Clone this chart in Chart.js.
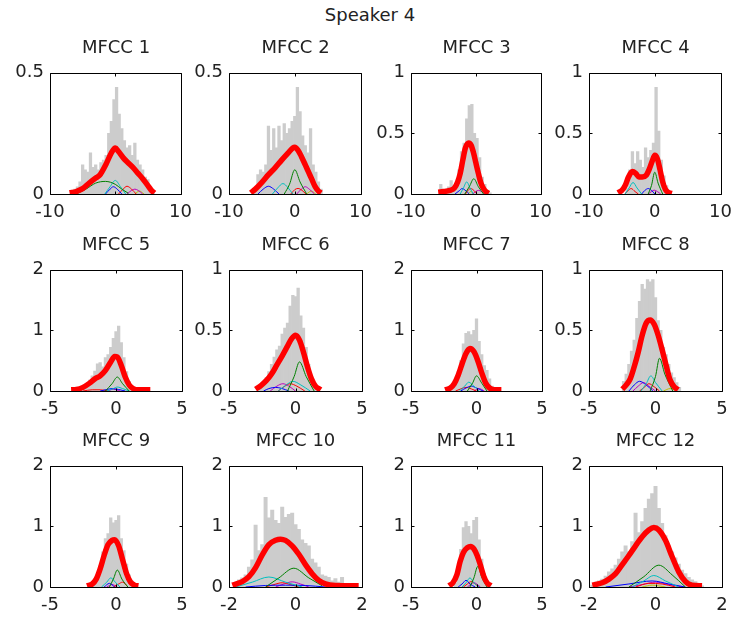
<!DOCTYPE html>
<html lang="en">
<head>
<meta charset="UTF-8">
<title>Speaker 4</title>
<script src="https://cdn.jsdelivr.net/npm/chart.js"></script>
<style>
  body { margin: 0; background: #fff; font-family: 'DejaVu Sans', sans-serif; }
  #page { position: relative; width: 732px; height: 621px; overflow: hidden; }
  .ttl { position: absolute; width: 160px; font-size: 18px; line-height: 20px; color: #222; text-align: center; white-space: nowrap; }
  canvas { position: absolute; }
</style>
</head>
<body>
<div id="page"></div>
<script>
// ---- data ----
const figTitle = 'Speaker 4';
const titles = ['MFCC 1','MFCC 2','MFCC 3','MFCC 4','MFCC 5','MFCC 6','MFCC 7','MFCC 8','MFCC 9','MFCC 10','MFCC 11','MFCC 12'];
const xMax  = [10, 10, 10, 10, 5, 5, 5, 5, 5, 2, 5, 2];
const yMax  = [0.5, 0.5, 1, 1, 2, 1, 2, 1, 2, 2, 2, 2];
const yStep = [0.5, 0.5, 0.5, 0.5, 1, 0.5, 1, 0.5, 1, 1, 1, 1];
// component colours: green, cyan, blue, red, magenta, yellow
const partColors = ['#008000', '#00bfbf', '#0000ff', '#ff0000', '#bf00bf', '#bfbf00'];

// histograms [bin centre, density]
const hist1 = [[-6.2,0.02],[-5.8,0.03],[-5.4,0.05],[-5.0,0.12],[-4.6,0.10],[-4.2,0.09],[-3.8,0.17],[-3.4,0.11],[-3.0,0.12],[-2.6,0.10],[-2.2,0.13],[-1.8,0.14],[-1.4,0.16],[-1.0,0.25],[-0.6,0.30],[-0.2,0.39],[0.2,0.44],[0.6,0.33],[1.0,0.27],[1.4,0.22],[1.8,0.19],[2.2,0.20],[2.6,0.16],[3.0,0.21],[3.4,0.14],[3.8,0.12],[4.2,0.10],[4.6,0.07],[5.0,0.06],[5.4,0.03],[5.8,0.01]];
const hist2 = [[-6.0,0.02],[-5.6,0.08],[-5.2,0.10],[-4.8,0.09],[-4.4,0.12],[-4.0,0.28],[-3.6,0.18],[-3.2,0.27],[-2.8,0.19],[-2.4,0.28],[-2.0,0.22],[-1.6,0.29],[-1.2,0.25],[-0.8,0.27],[-0.4,0.30],[0.0,0.32],[0.4,0.44],[0.8,0.34],[1.2,0.24],[1.6,0.20],[2.0,0.17],[2.4,0.27],[2.8,0.12],[3.2,0.09],[3.6,0.05],[4.0,0.02]];
const hist3 = [[-5.4,0.08],[-5.0,0.02],[-4.6,0.04],[-4.2,0.06],[-3.8,0.11],[-3.4,0.05],[-3.0,0.08],[-2.6,0.20],[-2.2,0.35],[-1.8,0.42],[-1.4,0.62],[-1.0,0.73],[-0.6,0.74],[-0.2,0.50],[0.2,0.46],[0.6,0.30],[1.0,0.14],[1.4,0.08],[1.8,0.03],[2.2,0.01]];
const hist4 = [[-4.2,0.05],[-3.8,0.20],[-3.4,0.35],[-3.0,0.25],[-2.6,0.35],[-2.2,0.28],[-1.8,0.22],[-1.4,0.38],[-1.0,0.30],[-0.6,0.36],[-0.2,0.42],[0.2,0.88],[0.6,0.52],[1.0,0.28],[1.4,0.15],[1.8,0.07],[2.2,0.02]];
const hist5 = [[-2.6,0.04],[-2.4,0.08],[-2.2,0.12],[-2.0,0.18],[-1.8,0.25],[-1.6,0.33],[-1.4,0.45],[-1.2,0.47],[-1.0,0.40],[-0.8,0.55],[-0.6,0.60],[-0.4,0.72],[-0.2,0.87],[0.0,0.98],[0.2,1.07],[0.4,0.80],[0.6,0.55],[0.8,0.32],[1.0,0.16],[1.2,0.07],[1.4,0.03]];
const hist6 = [[-2.8,0.03],[-2.6,0.05],[-2.4,0.07],[-2.2,0.11],[-2.0,0.16],[-1.8,0.22],[-1.6,0.28],[-1.4,0.34],[-1.2,0.37],[-1.0,0.47],[-0.8,0.52],[-0.6,0.56],[-0.4,0.70],[-0.2,0.79],[0.0,0.78],[0.2,0.85],[0.4,0.62],[0.6,0.52],[0.8,0.36],[1.0,0.22],[1.2,0.12],[1.4,0.06],[1.6,0.03]];
const hist7 = [[-1.8,0.10],[-1.6,0.18],[-1.4,0.32],[-1.2,0.50],[-1.0,0.78],[-0.8,0.95],[-0.6,0.98],[-0.4,0.93],[-0.2,1.00],[0.0,1.19],[0.2,0.82],[0.4,0.60],[0.6,0.42],[0.8,0.34],[1.0,0.20],[1.2,0.08],[1.4,0.03]];
const hist8 = [[-2.4,0.08],[-2.2,0.14],[-2.0,0.22],[-1.8,0.33],[-1.6,0.42],[-1.4,0.60],[-1.2,0.74],[-1.0,0.88],[-0.8,0.84],[-0.6,0.92],[-0.4,0.90],[-0.2,0.92],[0.0,0.77],[0.2,0.58],[0.4,0.50],[0.6,0.36],[0.8,0.30],[1.0,0.22],[1.2,0.15],[1.4,0.11],[1.6,0.07],[1.8,0.03]];
const hist9 = [[-1.6,0.10],[-1.4,0.20],[-1.2,0.35],[-1.0,0.58],[-0.8,0.80],[-0.6,0.88],[-0.4,1.14],[-0.2,1.06],[0.0,1.10],[0.2,1.18],[0.4,0.80],[0.6,0.60],[0.8,0.38],[1.0,0.20],[1.2,0.10],[1.4,0.04]];
const hist10 = [[-1.8,0.06],[-1.7,0.12],[-1.6,0.15],[-1.5,0.20],[-1.4,0.33],[-1.3,0.45],[-1.2,1.02],[-1.1,0.60],[-1.0,0.70],[-0.9,1.48],[-0.8,1.14],[-0.7,1.27],[-0.6,1.10],[-0.5,1.05],[-0.4,1.32],[-0.3,1.15],[-0.2,1.20],[-0.1,1.22],[0.0,1.03],[0.1,0.95],[0.2,0.78],[0.3,0.72],[0.4,0.68],[0.5,0.46],[0.6,0.40],[0.7,0.33],[0.8,0.20],[0.9,0.18],[1.0,0.16],[1.1,0.10],[1.2,0.14],[1.3,0.08],[1.4,0.16],[1.5,0.06],[1.6,0.05],[1.7,0.03]];
const hist11 = [[-1.6,0.06],[-1.4,0.25],[-1.2,0.62],[-1.0,0.98],[-0.8,1.08],[-0.6,1.00],[-0.4,0.88],[-0.2,1.10],[0.0,1.15],[0.2,0.78],[0.4,0.46],[0.6,0.22],[0.8,0.10],[1.0,0.03]];
const hist12 = [[-1.9,0.03],[-1.8,0.08],[-1.7,0.10],[-1.6,0.13],[-1.5,0.18],[-1.4,0.25],[-1.3,0.30],[-1.2,0.36],[-1.1,0.46],[-1.0,0.58],[-0.9,0.68],[-0.8,0.58],[-0.7,0.75],[-0.6,1.22],[-0.5,0.90],[-0.4,1.08],[-0.3,1.30],[-0.2,1.45],[-0.1,1.54],[0.0,1.66],[0.1,1.30],[0.2,1.05],[0.3,0.85],[0.4,0.68],[0.5,0.58],[0.6,0.48],[0.7,0.38],[0.8,0.28],[0.9,0.22],[1.0,0.16],[1.1,0.12],[1.2,0.09],[1.3,0.05],[1.4,0.02]];

// mixture fit (thick red)
const fit1 = [[-7,0.005],[-6,0.01],[-5,0.022],[-4,0.045],[-3,0.066],[-2.4,0.077],[-1.4,0.124],[-0.6,0.17],[0,0.19],[0.5,0.175],[1.2,0.15],[2,0.128],[2.7,0.11],[3.5,0.085],[4.2,0.063],[5,0.035],[5.5,0.016],[6,0.004]];
const fit2 = [[-6.7,0.005],[-6,0.02],[-5,0.048],[-4,0.08],[-3,0.108],[-2,0.14],[-1,0.17],[-0.3,0.19],[0,0.193],[0.5,0.18],[1,0.155],[1.6,0.12],[2.1,0.09],[2.6,0.06],[3.1,0.03],[3.6,0.012],[4,0.004]];
const fit3 = [[-5.8,0.015],[-5,0.02],[-4,0.03],[-3.3,0.05],[-2.8,0.1],[-2.4,0.17],[-2,0.28],[-1.6,0.38],[-1.1,0.42],[-0.7,0.4],[-0.3,0.33],[0,0.26],[0.4,0.17],[0.8,0.09],[1.2,0.045],[1.6,0.018],[2,0.005]];
const fit4 = [[-5.6,0.01],[-5,0.03],[-4.5,0.07],[-4,0.14],[-3.4,0.185],[-2.9,0.17],[-2.4,0.14],[-1.9,0.14],[-1.3,0.155],[-0.8,0.21],[-0.4,0.27],[0,0.32],[0.4,0.29],[0.8,0.2],[1.2,0.1],[1.6,0.04],[2,0.015],[2.6,0.005]];
const fit5 = [[-3.4,0.02],[-3,0.025],[-2.5,0.06],[-2,0.13],[-1.6,0.2],[-1.2,0.25],[-0.8,0.34],[-0.4,0.48],[-0.1,0.57],[0.1,0.56],[0.4,0.42],[0.7,0.23],[1,0.1],[1.3,0.04],[1.7,0.02],[2.6,0.02]];
const fit6 = [[-3,0.015],[-2.6,0.045],[-2.2,0.085],[-1.8,0.14],[-1.4,0.215],[-1,0.29],[-0.6,0.37],[-0.3,0.43],[0,0.46],[0.3,0.42],[0.6,0.32],[0.9,0.2],[1.2,0.1],[1.5,0.04],[1.9,0.01]];
const fit7 = [[-2.4,0.02],[-2,0.05],[-1.7,0.12],[-1.4,0.26],[-1.1,0.45],[-0.8,0.62],[-0.5,0.7],[-0.2,0.65],[0.1,0.5],[0.4,0.3],[0.7,0.13],[1,0.05],[1.4,0.02],[1.9,0.02]];
const fit8 = [[-2.5,0.015],[-2.2,0.05],[-1.9,0.1],[-1.6,0.2],[-1.3,0.32],[-1,0.46],[-0.7,0.56],[-0.4,0.585],[-0.1,0.55],[0.2,0.46],[0.5,0.34],[0.8,0.21],[1.1,0.09],[1.4,0.035],[1.7,0.01]];
const fit9 = [[-2.2,0.02],[-1.8,0.05],[-1.5,0.13],[-1.2,0.3],[-0.9,0.52],[-0.6,0.7],[-0.3,0.77],[-0.1,0.78],[0.2,0.68],[0.5,0.45],[0.8,0.22],[1.1,0.08],[1.4,0.03],[1.7,0.02]];
const fit10 = [[-1.9,0.03],[-1.6,0.09],[-1.4,0.17],[-1.2,0.32],[-1,0.53],[-0.8,0.7],[-0.6,0.77],[-0.45,0.79],[-0.3,0.77],[-0.1,0.68],[0.1,0.54],[0.3,0.37],[0.5,0.22],[0.7,0.11],[0.9,0.05],[1.2,0.025],[1.9,0.02]];
const fit11 = [[-2.1,0.02],[-1.8,0.07],[-1.5,0.2],[-1.25,0.42],[-1,0.57],[-0.7,0.65],[-0.45,0.67],[-0.2,0.63],[0.05,0.52],[0.3,0.36],[0.55,0.18],[0.8,0.07],[1.1,0.02]];
const fit12 = [[-1.9,0.03],[-1.6,0.07],[-1.4,0.13],[-1.2,0.22],[-1,0.37],[-0.8,0.52],[-0.6,0.68],[-0.4,0.83],[-0.2,0.94],[-0.05,0.98],[0.1,0.94],[0.3,0.77],[0.5,0.5],[0.7,0.25],[0.9,0.09],[1.1,0.03],[1.4,0.02]];

// mixture components, in partColors order (null = not drawn)
const parts1 = [
  [[-6,0],[-4.5,0.02],[-3,0.045],[-1.5,0.052],[0,0.04],[1,0.02],[2,0.003]],
  [[-1.6,0],[-0.8,0.03],[0,0.056],[0.8,0.03],[1.6,0]],
  [[-1.5,0],[-0.8,0.02],[-0.3,0.03],[0.3,0.02],[1,0]],
  [[0.5,0],[1.2,0.02],[1.8,0.032],[2.5,0.02],[3.2,0]],
  [[1.8,0],[2.5,0.015],[3,0.02],[3.5,0.015],[4.2,0]],
  [[3,0],[3.7,0.012],[4.4,0]]
];
const parts2 = [
  [[-1.6,0],[-0.8,0.04],[0,0.1],[0.8,0.05],[1.8,0]],
  [[-3.4,0],[-2.6,0.025],[-1.8,0.043],[-1,0.025],[-0.3,0]],
  [[-5.6,0],[-4.8,0.02],[-4,0.032],[-3.2,0.02],[-2.4,0]],
  [[-0.6,0],[0,0.018],[0.5,0.023],[1.1,0.015],[1.7,0]],
  [[0.3,0],[1,0.02],[1.6,0.03],[2.2,0.02],[3,0]],
  [[1.8,0],[2.5,0.012],[3.2,0]]
];
const parts3 = [
  [[-1.7,0],[-1,0.06],[-0.3,0.126],[0.4,0.06],[1.2,0]],
  [[-2.4,0],[-1.9,0.05],[-1.4,0.1],[-0.9,0.05],[-0.4,0]],
  [[-3.2,0],[-2.6,0.025],[-2.1,0.045],[-1.5,0.025],[-1,0]],
  [[-1.6,0],[-1.2,0.03],[-0.8,0.045],[-0.3,0.03],[0.2,0]],
  [[-0.5,0],[0,0.02],[0.4,0.03],[0.9,0.02],[1.4,0]],
  [[-1.2,0],[-0.8,0.02],[-0.3,0]]
];
const parts4 = [
  [[-1,0],[-0.5,0.07],[0,0.18],[0.5,0.09],[1.2,0]],
  [[-4.5,0],[-3.9,0.05],[-3.3,0.095],[-2.7,0.05],[-2,0]],
  [[-2,0],[-1.5,0.03],[-1,0.045],[-0.5,0.03],[0,0]],
  [[-4.6,0],[-4.1,0.025],[-3.6,0.045],[-3,0.02],[-2.5,0]],
  [[-1,0],[-0.5,0.02],[-0.1,0.032],[0.4,0.02],[0.9,0]],
  null
];
const parts5 = [
  [[-0.8,0],[-0.3,0.12],[0.1,0.23],[0.5,0.12],[1,0]],
  [[-0.7,0],[-0.2,0.04],[0.1,0.065],[0.5,0.04],[1,0]],
  [[-1.2,0],[-0.7,0.025],[-0.3,0.04],[0.2,0.025],[0.7,0]],
  [[-2.5,0],[-1.8,0.02],[-1.2,0.02],[-0.6,0]],
  [[-0.6,0],[-0.2,0.03],[0.3,0]],
  null
];
const parts6 = [
  [[-0.6,0],[-0.1,0.12],[0.3,0.24],[0.8,0.12],[1.4,0]],
  [[-1.3,0],[-0.7,0.05],[-0.2,0.08],[0.4,0.05],[1.1,0]],
  [[-2.4,0],[-2,0.02],[-1.5,0.03],[-1,0.02],[-0.5,0]],
  [[-1.3,0],[-0.8,0.04],[-0.4,0.06],[0.1,0.04],[0.7,0]],
  [[-1.9,0],[-1.4,0.04],[-0.95,0.06],[-0.5,0.04],[0,0]],
  null
];
const parts7 = [
  [[-0.7,0],[-0.3,0.13],[0,0.25],[0.4,0.13],[0.8,0]],
  [[-1.3,0],[-0.9,0.08],[-0.6,0.145],[-0.2,0.08],[0.2,0]],
  [[-1.2,0],[-0.8,0.05],[-0.4,0.08],[0,0.05],[0.5,0]],
  [[-1.6,0],[-1.2,0.035],[-0.8,0.06],[-0.4,0.035],[0,0]],
  [[-0.2,0],[0.2,0.04],[0.6,0]],
  null
];
const parts8 = [
  [[-0.4,0],[0,0.12],[0.3,0.27],[0.7,0.14],[1.3,0]],
  [[-1.1,0],[-0.7,0.06],[-0.35,0.125],[0,0.07],[0.5,0]],
  [[-2,0],[-1.6,0.05],[-1.2,0.08],[-0.7,0.05],[-0.2,0]],
  [[-1.2,0],[-0.8,0.035],[-0.5,0.06],[-0.1,0.035],[0.3,0]],
  [[-1.7,0],[-1.3,0.04],[-0.9,0.07],[-0.5,0.04],[0,0]],
  [[0.6,0],[1.1,0.02],[1.6,0]]
];
const parts9 = [
  [[-0.5,0],[-0.2,0.13],[0.1,0.28],[0.45,0.13],[0.9,0]],
  [[-1.1,0],[-0.7,0.08],[-0.4,0.15],[-0.05,0.08],[0.3,0]],
  [[-0.9,0],[-0.5,0.06],[-0.1,0]],
  [[-0.2,0],[0.2,0.05],[0.5,0.08],[0.9,0]],
  [[-0.7,0],[-0.3,0.04],[0.1,0]],
  null
];
const parts10 = [
  [[-0.9,0],[-0.5,0.15],[-0.05,0.31],[0.4,0.15],[0.8,0.02]],
  [[-1.8,0],[-1.3,0.08],[-0.8,0.165],[-0.3,0.08],[0.2,0]],
  [[-1.5,0],[-0.9,0.025],[-0.3,0.03],[0.3,0.025],[0.9,0]],
  [[-0.9,0],[-0.65,0.04],[-0.4,0.07],[-0.15,0.04],[0.1,0]],
  [[-0.6,0],[-0.35,0.05],[-0.1,0.085],[0.15,0.05],[0.4,0]],
  null
];
const parts11 = [
  [[-0.5,0],[-0.2,0.15],[0.1,0.34],[0.4,0.16],[0.8,0]],
  [[-1.1,0],[-0.8,0.07],[-0.5,0.15],[-0.2,0.07],[0.2,0]],
  [[-1.4,0],[-1.1,0.05],[-0.8,0.11],[-0.5,0.05],[-0.1,0]],
  [[-1,0],[-0.7,0.05],[-0.4,0.09],[-0.1,0.05],[0.2,0]],
  [[-0.7,0],[-0.2,0.07],[0.3,0]],
  null
];
const parts12 = [
  [[-0.8,0],[-0.35,0.17],[0.1,0.36],[0.5,0.2],[0.9,0]],
  [[-0.7,0],[-0.35,0.1],[-0.05,0.19],[0.3,0.1],[0.7,0]],
  [[-1.5,0],[-0.8,0.05],[-0.1,0.1],[0.4,0.05],[0.9,0]],
  [[-0.6,0],[-0.2,0.06],[0.2,0.05],[0.6,0]],
  [[-0.8,0],[-0.4,0.04],[0,0.08],[0.4,0.04],[0.8,0]],
  [[-0.4,0],[-0.1,0.03],[0.3,0]]
];

const hists = [hist1, hist2, hist3, hist4, hist5, hist6, hist7, hist8, hist9, hist10, hist11, hist12];
const fits  = [fit1, fit2, fit3, fit4, fit5, fit6, fit7, fit8, fit9, fit10, fit11, fit12];
const parts = [parts1, parts2, parts3, parts4, parts5, parts6, parts7, parts8, parts9, parts10, parts11, parts12];

// ---- layout (plot boxes in page pixels) ----
const colLeft = [50, 229, 411, 589];
const colWidth = [132, 133, 131, 133];
const rowTop = [70, 267, 463];
const rowHeight = 124;
const titleTop = [37, 234, 430];
const FONT = "'DejaVu Sans', sans-serif";
const page = document.getElementById('page');

const pts = arr => arr.map(p => ({ x: p[0], y: p[1] }));
const fmt = v => String(parseFloat(Number(v).toFixed(2)));

// MATLAB style box with inward ticks on all sides
const boxPlugin = {
  id: 'box',
  afterDatasetsDraw(chart) {
    const { ctx, chartArea: a, scales: { x, y } } = chart;
    const l = Math.round(a.left) + 0.5, r = Math.round(a.right) + 0.5;
    const t = Math.round(a.top) + 0.5, b = Math.round(a.bottom) + 0.5;
    ctx.save();
    ctx.strokeStyle = '#000';
    ctx.lineWidth = 1;
    ctx.beginPath();
    ctx.rect(l, t, r - l, b - t);
    x.ticks.forEach(tk => {
      const px = Math.round(x.getPixelForValue(tk.value)) + 0.5;
      ctx.moveTo(px, b); ctx.lineTo(px, b - 3);
      ctx.moveTo(px, t); ctx.lineTo(px, t + 3);
    });
    y.ticks.forEach(tk => {
      const py = Math.round(y.getPixelForValue(tk.value)) + 0.5;
      ctx.moveTo(l, py); ctx.lineTo(l + 3, py);
      ctx.moveTo(r, py); ctx.lineTo(r - 3, py);
    });
    ctx.stroke();
    ctx.restore();
  }
};

function addText(txt, left, top) {
  const d = document.createElement('div');
  d.className = 'ttl';
  d.textContent = txt;
  d.style.left = (left - 80) + 'px';
  d.style.top = top + 'px';
  page.appendChild(d);
}

addText(figTitle, 370, 5);

for (let i = 0; i < 12; i++) {
  const col = i % 4, row = Math.floor(i / 4);
  const L = colLeft[col], W = colWidth[col], T = rowTop[row], H = rowHeight;
  const padL = 48, padT = 14, padR = 18, padB = 30;

  const cv = document.createElement('canvas');
  cv.width = W + padL + padR;
  cv.height = H + padT + padB;
  cv.style.left = (L - padL) + 'px';
  cv.style.top = (T - padT) + 'px';
  page.appendChild(cv);
  addText(titles[i], L + W / 2, titleTop[row]);

  const datasets = [{
    type: 'line', data: pts(fits[i]), borderColor: '#ff0000', borderWidth: 5.5,
    pointRadius: 0, cubicInterpolationMode: 'monotone', clip: 0, order: 0
  }];
  parts[i].forEach((p, k) => {
    if (!p) return;
    datasets.push({
      type: 'line', data: pts(p), borderColor: partColors[k], borderWidth: 1,
      pointRadius: 0, cubicInterpolationMode: 'monotone', order: 1
    });
  });
  datasets.push({
    type: 'bar', data: pts(hists[i]), backgroundColor: '#cccccc', borderWidth: 0,
    barPercentage: 1, categoryPercentage: 1, order: 2
  });

  const tickFont = { family: FONT, size: 18 };
  new Chart(cv, {
    type: 'bar',
    data: { datasets },
    options: {
      responsive: false,
      animation: false,
      events: [],
      layout: { padding: { left: 0, top: padT, right: padR, bottom: 0 } },
      plugins: { legend: { display: false }, tooltip: { enabled: false } },
      scales: {
        x: {
          type: 'linear', min: -xMax[i], max: xMax[i], offset: false,
          grid: { display: false, drawTicks: false }, border: { display: false },
          ticks: { stepSize: xMax[i], autoSkip: false, maxRotation: 0, padding: 8, color: '#222', font: tickFont, callback: fmt },
          afterFit(s) { s.height = padB; }
        },
        y: {
          type: 'linear', min: 0, max: yMax[i],
          grid: { display: false, drawTicks: false }, border: { display: false },
          ticks: { stepSize: yStep[i], autoSkip: false, padding: 6, color: '#222', font: tickFont, callback: fmt },
          afterFit(s) { s.width = padL; }
        }
      }
    },
    plugins: [boxPlugin]
  });
}
</script>
</body>
</html>
